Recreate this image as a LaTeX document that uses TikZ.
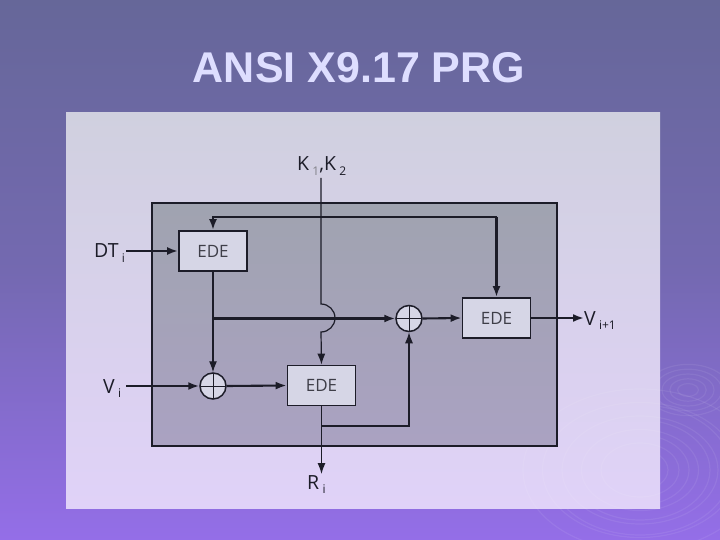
\documentclass[tikz,border=0pt]{standalone}
\usepackage{fontspec}
\setmainfont{Open Sans}
\newfontfamily\titlefont{Liberation Sans}
\usetikzlibrary{arrows.meta,calc}
\definecolor{bgtop}{RGB}{102,103,153}
\definecolor{bgbot}{RGB}{148,110,232}
\definecolor{pantop}{RGB}{208,208,223}
\definecolor{panbot}{RGB}{224,210,248}
\definecolor{intop}{RGB}{160,163,176}
\definecolor{inbot}{RGB}{170,162,194}
\definecolor{boxfill}{RGB}{214,214,230}
\definecolor{ink}{RGB}{28,28,40}
\definecolor{titlecol}{RGB}{222,222,255}
\tikzset{
  edebox/.style={draw=ink, line width=1.8pt, fill=boxfill, minimum width=68pt, minimum height=40pt, inner sep=0pt, font=\fontsize{17}{17}\selectfont, text=ink!85},
  xorc/.style={draw=ink, line width=1.5pt, fill=boxfill, circle, minimum size=26pt, inner sep=0pt,
    path picture={\draw[ink, line width=1pt] (path picture bounding box.north) -- (path picture bounding box.south) (path picture bounding box.west) -- (path picture bounding box.east);}},
  thick line/.style={draw=ink, line width=2.1pt},
  thin line/.style={draw=ink, line width=1.2pt},
  tip/.style={-{Latex[length=11pt,width=8pt]}},
  lbl/.style={font=\fontsize{19.5}{19.5}\selectfont, text=ink, inner sep=0pt},
  swirl/.style={draw=white, opacity=0.07, line width=1.2pt}
}
\newcommand{\sbs}[1]{\,\raisebox{-0.45ex}{\fontsize{12}{12}\selectfont #1}}
\begin{document}
\begin{tikzpicture}[x=1pt,y=-1pt]
\useasboundingbox (0,0) rectangle (720,540);
\shade[top color=bgtop, bottom color=bgbot, middle color=bgtop!70!bgbot] (0,0) rectangle (720,540);
% decorative swirls
\foreach \r in {8,14,20,26,32} {\draw[swirl] (688,390) ellipse[x radius=\r*1.3, y radius=\r*0.8];}
\foreach \r in {20,35,50,65} {\draw[swirl] (640,470) ellipse[x radius=\r*1.4, y radius=\r];}
% panel
\shade[top color=pantop, bottom color=panbot] (66,113) rectangle (660,508);
\foreach \r in {30,45,60,75,90} {\draw[swirl] (640,470) ellipse[x radius=\r*1.3, y radius=\r*0.9];}
\draw[ink, line width=1.6pt, top color=intop, bottom color=inbot] (152,203) rectangle (557,446);
% title
\node[font=\titlefont\bfseries\fontsize{43}{43}\selectfont, text=titlecol] (title) at (359,68) {ANSI X9.17 PRG};
% boxes
\node[edebox] (e1) at (213,251) {EDE};
\node[edebox] (e3) at (496.5,318) {EDE};
\node[edebox] (e2) at (321.5,385.5) {EDE};
\node[xorc] (x1) at (213,386) {};
\node[xorc] (x2) at (409,318.5) {};
% labels
\node[lbl, anchor=base west] (dt) at (94,258) {DT\sbs{i}};
\node[lbl, anchor=base west] (vi) at (103,393) {V\sbs{i}};
\node[lbl, anchor=base west] (vo) at (584,325) {V\sbs{i+1}};
\node[lbl, anchor=base west] (ri) at (307,489) {R\sbs{i}};
\node[lbl, anchor=base west] (kk) at (297,171) {K\sbs{\color{ink!55}1},K\sbs{2}};
% coordinates
\coordinate (ktop) at (321,178);
\coordinate (jtop) at (321,304);
\coordinate (fbl) at (213,217);
\coordinate (fbr) at (496.5,217);
\coordinate (br1) at (213,318.5);
\coordinate (br2) at (321.5,426);
\coordinate (br3) at (409,426);
\coordinate (dtin) at (126,251);
\coordinate (viin) at (126,386);
\coordinate (voend) at (584,318);
\coordinate (riend) at (321.5,474);
% K line with jump
\draw[thin line, tip] (ktop) -- (jtop) arc[start angle=-90, end angle=90, radius=14] -- (e2.north);
% feedback
\draw[thick line, tip] (fbr) -- (e3.north);
\draw[thick line, tip] (fbr) -- (fbl) -- (e1.north);
% inputs
\draw[thick line, tip] (dtin) -- (e1.west);
\draw[thick line, tip] (viin) -- (x1.west);
% top EDE down
\draw[thin line, tip] (e1.south) -- (x1.north);
\draw[thick line, tip] (br1) -- (x2.west);
\draw[thick line, tip] (x2.east) -- (e3.west);
\draw[thick line, tip] (e3.east) -- (voend);
\draw[thick line, tip] (x1.east) -- (e2.west);
\draw[thin line, tip] (e2.south) -- (riend);
\draw[thin line, tip] (br2) -- (br3) -- (x2.south);
\end{tikzpicture}
\end{document}
